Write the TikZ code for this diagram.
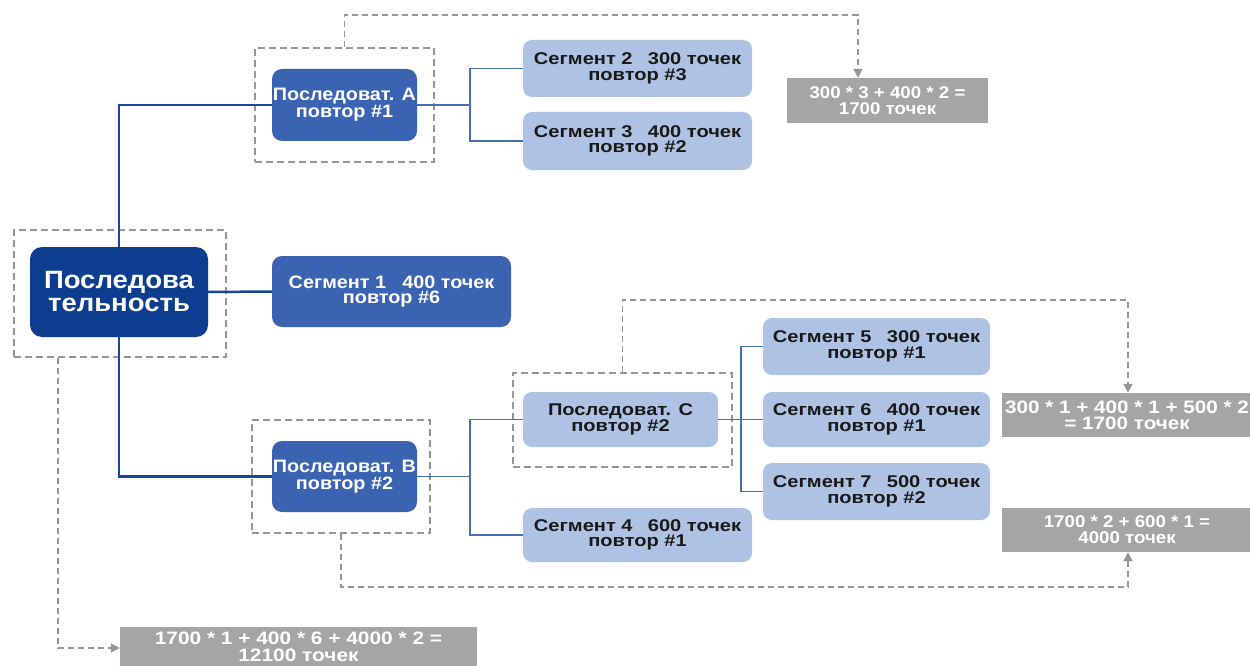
\documentclass[tikz,border=0pt]{standalone}
\usepackage{fontspec}
\setmainfont{Liberation Sans}
\newfontfamily\fa[FakeStretch=1.1]{Liberation Sans}
\newfontfamily\fb[FakeStretch=1.18]{Liberation Sans}
\newfontfamily\fc[FakeStretch=1.15]{Liberation Sans}
\newfontfamily\fd[FakeStretch=1.16]{Liberation Sans}
\usetikzlibrary{arrows.meta,calc}
\definecolor{navy}{RGB}{12,61,143}
\definecolor{midblue}{RGB}{58,100,178}
\definecolor{lightblue}{RGB}{174,195,228}
\definecolor{sumgray}{RGB}{166,164,164}
\definecolor{dashgray}{RGB}{150,150,150}
\definecolor{linkblue}{RGB}{24,70,152}
\definecolor{thinblue}{RGB}{70,110,185}
\definecolor{darktext}{RGB}{25,25,25}
\newcommand{\gap}{\hspace{0.9em}}
\tikzset{
  mainbox/.style={fill=navy, text=white, rounded corners=12pt, inner sep=0pt, align=center,
    font=\fa\bfseries\fontsize{25}{23}\selectfont},
  midbox/.style={fill=midblue, text=white, rounded corners=10pt, inner sep=0pt, align=center,
    font=\fa\bfseries\fontsize{18}{15.5}\selectfont},
  segbox/.style={fill=lightblue, text=darktext, rounded corners=9pt, inner sep=0pt, align=center,
    minimum width=229pt, font=\fb\bfseries\fontsize{17}{15.5}\selectfont},
  sumbox/.style={fill=sumgray, text=white, inner sep=0pt, align=center,
    font=\fa\bfseries\fontsize{17}{16}\selectfont},
  frame/.style={draw=dashgray, line width=1.5pt, dash pattern=on 7pt off 4pt, inner sep=0pt},
  thick link/.style={draw=linkblue, line width=2.5pt},
  thin link/.style={draw=thinblue, line width=1.1pt},
  result/.style={draw=dashgray, line width=1.3pt, dash pattern=on 6pt off 4pt,
    -{Triangle[width=9pt,length=9pt]}, dashgray},
}
\begin{document}
\begin{tikzpicture}[x=1pt,y=-1pt]
\useasboundingbox (0,0) rectangle (1250,666);
\clip (0,0) rectangle (1250,666);
\fill[white] (0,0) rectangle (1250,666);

% frames
\node[frame, minimum width=212pt, minimum height=127pt] (mainframe) at (120,293.5) {};
\node[frame, minimum width=179pt, minimum height=114pt] (Aframe) at (344.5,105) {};
\node[frame, minimum width=178pt, minimum height=113pt] (Bframe) at (341,476.5) {};
\node[frame, minimum width=219pt, minimum height=94pt] (Cframe) at (622.5,420) {};

% main nodes
\node[mainbox, minimum width=178pt, minimum height=90pt] (main) at (119,292) {Последова\\тельность};
\node[midbox, minimum width=145pt, minimum height=72pt] (A) at (344.5,105) {Последоват. A\\повтор \#1};
\node[midbox, minimum width=239pt, minimum height=71pt] (s1) at (391.5,291.5) {Сегмент 1\gap 400 точек\\повтор \#6};
\node[midbox, minimum width=145pt, minimum height=71pt] (B) at (344.5,476.5) {Последоват. B\\повтор \#2};

\node[segbox, minimum height=57pt] (s2) at (637.5,68.5) {Сегмент 2\gap 300 точек\\повтор \#3};
\node[segbox, minimum height=58pt] (s3) at (637.5,141) {Сегмент 3\gap 400 точек\\повтор \#2};

\node[segbox, minimum width=195pt, minimum height=55pt] (C) at (620.5,419.5) {Последоват. C\\повтор \#2};
\node[segbox, minimum height=54pt] (s4) at (637.5,535) {Сегмент 4\gap 600 точек\\повтор \#1};

\node[segbox, minimum width=227pt, minimum height=57pt] (s5) at (876.5,346.5) {Сегмент 5\gap 300 точек\\повтор \#1};
\node[segbox, minimum width=227pt, minimum height=55pt] (s6) at (876.5,419.5) {Сегмент 6\gap 400 точек\\повтор \#1};
\node[segbox, minimum width=227pt, minimum height=57pt] (s7) at (876.5,491.5) {Сегмент 7\gap 500 точек\\повтор \#2};

% sums
\node[sumbox, minimum width=201pt, minimum height=45pt] (sum1) at (887.5,100.5) {300 * 3 + 400 * 2 =\\1700 точек};
\node[sumbox, font=\fc\bfseries\fontsize{18}{16}\selectfont, minimum width=250pt, minimum height=44pt] (sum2) at (1127,415) {300 * 1 + 400 * 1 + 500 * 2\\= 1700 точек};
\node[sumbox, minimum width=250pt, minimum height=44pt] (sum3) at (1127,530) {1700 * 2 + 600 * 1 =\\4000 точек};
\node[sumbox, font=\fd\bfseries\fontsize{18}{17}\selectfont, minimum width=357pt, minimum height=39pt] (sum4) at (298.5,646.5) {1700 * 1 + 400 * 6 + 4000 * 2 =\\12100 точек};

% thick links
\draw[thick link] (main.north) |- (A.west);
\draw[thick link] (main.east) -- (s1.west);
\draw[thick link] (main.south) |- (B.west);

% thin links
\coordinate (ja) at (470,0);
\draw[thin link] (A.east) -- (A.east -| ja) coordinate (jA);
\draw[thin link] (jA) |- (s2.west);
\draw[thin link] (jA) |- (s3.west);
\coordinate (jb) at (470,0);
\draw[thin link] (B.east) -- (B.east -| jb) coordinate (jB);
\draw[thin link] (jB) |- (C.west);
\draw[thin link] (jB) |- (s4.west);
\coordinate (jc) at (741,0);
\draw[thin link] (C.east) -- (C.east -| jc) coordinate (jC);
\draw[thin link] (jC) |- (s5.west);
\draw[thin link] (jC) -- (s6.west);
\draw[thin link] (jC) |- (s7.west);

% result arrows
\coordinate (t1) at (858,15);
\draw[result] (Aframe.north) |- (t1) -- (t1 |- sum1.north);
\coordinate (t2) at (1128,300);
\draw[result] (Cframe.north) |- (t2) -- (t2 |- sum2.north);
\coordinate (t3) at (1128,587);
\draw[result] (Bframe.south) |- (t3) -- (t3 |- sum3.south);
\coordinate (t4) at (58,648);
\draw[result] (t4 |- mainframe.south) -- (t4) -- (t4 -| sum4.west);
\end{tikzpicture}
\end{document}
